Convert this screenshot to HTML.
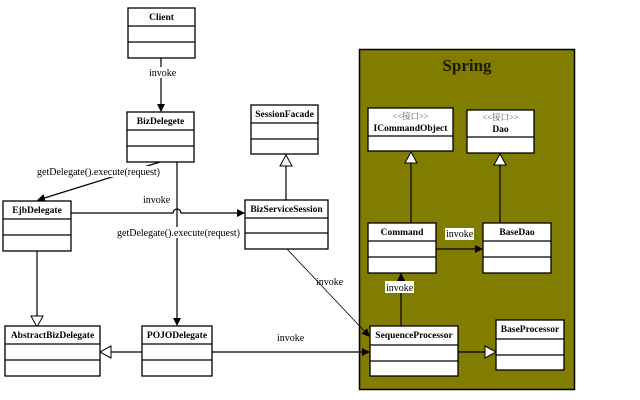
<!DOCTYPE html>
<html><head><meta charset="utf-8"><style>
html,body{margin:0;padding:0;background:#fff;width:640px;height:400px;overflow:hidden}
svg{display:block}
.b{fill:#fff;stroke:#000;stroke-width:1.3}
.l{stroke:#000;stroke-width:1.2;fill:none}
.t{font-family:"Liberation Serif",serif;font-size:9.5px;font-weight:bold;text-anchor:middle}
.n{font-family:"Liberation Serif",serif;font-size:10px}
.s{font-family:"Liberation Serif","Noto Serif CJK SC",serif;font-size:8.5px;fill:#555;text-anchor:middle}
</style></head><body>
<svg width="640" height="400" xmlns="http://www.w3.org/2000/svg">
<defs>
<marker id="a" markerWidth="8" markerHeight="8" refX="7" refY="4" orient="auto" markerUnits="userSpaceOnUse"><path d="M0,0 L8,4 L0,8 z" fill="#000"/></marker>
<marker id="g" markerWidth="14" markerHeight="14" refX="12" refY="7" orient="auto" markerUnits="userSpaceOnUse"><path d="M1,1 L12,7 L1,13 z" fill="#fff" stroke="#000"/></marker>
</defs>
<rect x="359.5" y="49.5" width="215" height="340" fill="#807d00" stroke="#000" stroke-width="1.5"/>
<text x="467" y="71" text-anchor="middle" font-family="Liberation Serif,serif" font-weight="bold" font-size="17" fill="#1a1a00">Spring</text>

<line class="l" x1="161" y1="58" x2="161" y2="111" marker-end="url(#a)"/>
<rect x="148" y="67" width="31" height="11" fill="#fff"/>
<text class="n" x="149" y="76">invoke</text>
<line class="l" x1="160" y1="162" x2="38" y2="200" marker-end="url(#a)"/>
<rect x="37" y="166" width="124" height="11" fill="#fff"/>
<text class="n" x="37" y="175">getDelegate().execute(request)</text>
<path class="l" d="M71,213 L173,213 A4,4 0 0 1 181,213 L244,213" marker-end="url(#a)"/>
<text class="n" x="143" y="203">invoke</text>
<line class="l" x1="177" y1="162" x2="177" y2="325" marker-end="url(#a)"/>
<rect x="117" y="227" width="124" height="11" fill="#fff"/>
<text class="n" x="117" y="236">getDelegate().execute(request)</text>
<line class="l" x1="286" y1="200" x2="286" y2="155" marker-end="url(#g)"/>
<line class="l" x1="37" y1="251" x2="37" y2="327" marker-end="url(#g)"/>
<line class="l" x1="142" y1="352" x2="100" y2="352" marker-end="url(#g)"/>
<line class="l" x1="212" y1="352" x2="369" y2="352" marker-end="url(#a)"/>
<text class="n" x="277" y="341">invoke</text>
<line x1="287" y1="249" x2="369" y2="336" stroke="#000" stroke-width="0.8" marker-end="url(#a)"/>
<text class="n" x="316" y="285">invoke</text>
<line class="l" x1="401" y1="326" x2="401" y2="274" marker-end="url(#a)" stroke-width="1.5"/>
<rect x="385" y="281" width="29" height="12" fill="#fff"/>
<text class="n" x="386" y="291">invoke</text>
<line class="l" x1="436" y1="249" x2="482" y2="249" marker-end="url(#a)" stroke-width="1.5"/>
<rect x="445" y="228" width="29" height="12" fill="#fff"/>
<text class="n" x="446" y="237">invoke</text>
<line class="l" x1="411" y1="223" x2="411" y2="152" marker-end="url(#g)"/>
<line class="l" x1="500" y1="223" x2="500" y2="154" marker-end="url(#g)"/>
<line class="l" x1="458" y1="352" x2="496" y2="352" marker-end="url(#g)" stroke-width="1.5"/>

<g>
<rect class="b" x="128" y="8" width="67" height="50"/><line class="l" x1="128" y1="26" x2="195" y2="26"/><line class="l" x1="128" y1="42" x2="195" y2="42"/><text class="t" x="161.5" y="20">Client</text>
<rect class="b" x="127" y="112" width="67" height="50"/><line class="l" x1="127" y1="130" x2="194" y2="130"/><line class="l" x1="127" y1="146" x2="194" y2="146"/><text class="t" x="160.5" y="124">BizDelegete</text>
<rect class="b" x="251" y="105" width="67" height="49"/><line class="l" x1="251" y1="123" x2="318" y2="123"/><line class="l" x1="251" y1="139" x2="318" y2="139"/><text class="t" x="284.5" y="117">SessionFacade</text>
<rect class="b" x="3" y="201" width="68" height="50"/><line class="l" x1="3" y1="219" x2="71" y2="219"/><line class="l" x1="3" y1="235" x2="71" y2="235"/><text class="t" x="37" y="213">EjbDelegate</text>
<rect class="b" x="245" y="200" width="83" height="49"/><line class="l" x1="245" y1="218" x2="328" y2="218"/><line class="l" x1="245" y1="233" x2="328" y2="233"/><text class="t" x="286.5" y="212">BizServiceSession</text>
<rect class="b" x="5" y="326" width="95" height="50"/><line class="l" x1="5" y1="344" x2="100" y2="344"/><line class="l" x1="5" y1="360" x2="100" y2="360"/><text class="t" x="52.5" y="338">AbstractBizDelegate</text>
<rect class="b" x="142" y="326" width="70" height="50"/><line class="l" x1="142" y1="344" x2="212" y2="344"/><line class="l" x1="142" y1="360" x2="212" y2="360"/><text class="t" x="177" y="338">POJODelegate</text>
<rect class="b" x="368" y="108" width="85" height="43"/><line class="l" x1="368" y1="136" x2="453" y2="136"/><text class="s" x="410.5" y="119">&lt;&lt;接口&gt;&gt;</text><text class="t" x="410.5" y="131">ICommandObject</text>
<rect class="b" x="467" y="110" width="67" height="43"/><line class="l" x1="467" y1="137" x2="534" y2="137"/><text class="s" x="500.5" y="120">&lt;&lt;接口&gt;&gt;</text><text class="t" x="500.5" y="132">Dao</text>
<rect class="b" x="368" y="223" width="68" height="50"/><line class="l" x1="368" y1="241" x2="436" y2="241"/><line class="l" x1="368" y1="257" x2="436" y2="257"/><text class="t" x="402" y="235">Command</text>
<rect class="b" x="483" y="223" width="68" height="50"/><line class="l" x1="483" y1="241" x2="551" y2="241"/><line class="l" x1="483" y1="257" x2="551" y2="257"/><text class="t" x="517" y="235">BaseDao</text>
<rect class="b" x="370" y="326" width="88" height="50"/><line class="l" x1="370" y1="345" x2="458" y2="345"/><line class="l" x1="370" y1="361" x2="458" y2="361"/><text class="t" x="414" y="338">SequenceProcessor</text>
<rect class="b" x="496" y="320" width="68" height="50"/><line class="l" x1="496" y1="339" x2="564" y2="339"/><line class="l" x1="496" y1="355" x2="564" y2="355"/><text class="t" x="530" y="332">BaseProcessor</text>
</g>
</svg>
</body></html>
